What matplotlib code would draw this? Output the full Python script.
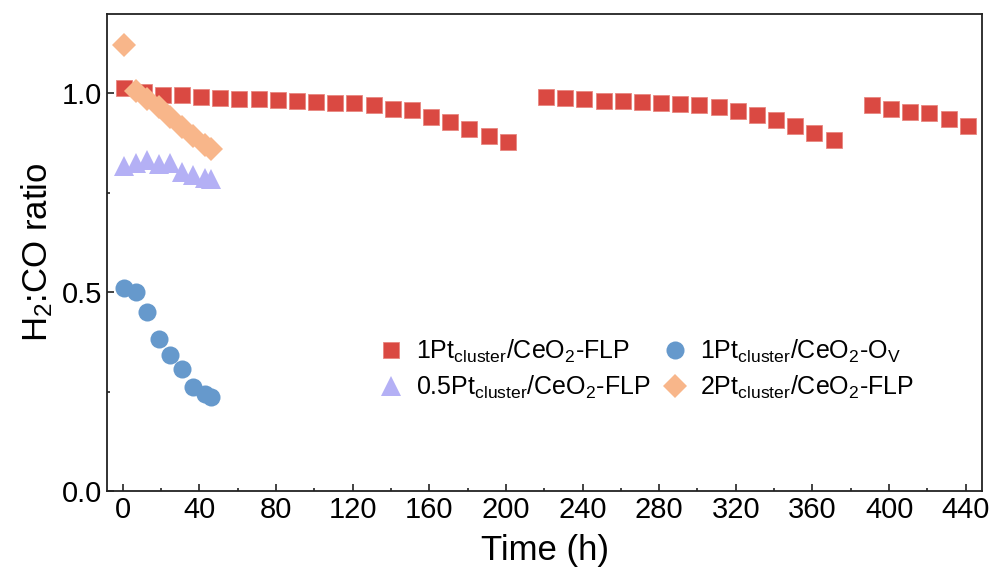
import numpy as np
import matplotlib.pyplot as plt
from matplotlib.ticker import MultipleLocator, FormatStrFormatter

plt.rcParams['font.family'] = ['Liberation Sans', 'DejaVu Sans']
plt.rcParams['mathtext.fontset'] = 'custom'
plt.rcParams['mathtext.rm'] = 'Liberation Sans'
plt.rcParams['mathtext.it'] = 'Liberation Sans:italic'

# 1Pt cluster / CeO2-FLP, three runs
t_flp1 = [1, 11, 21, 31, 41, 51, 61, 71, 81, 91, 101, 111, 121, 131, 141, 151,
          161, 171, 181, 191, 201]
r_flp1 = [1.014, 1.003, 0.997, 0.995, 0.992, 0.989, 0.987, 0.986, 0.984, 0.981,
          0.979, 0.977, 0.976, 0.972, 0.960, 0.959, 0.942, 0.929, 0.911, 0.894, 0.877]
t_flp2 = [221, 231, 241, 251, 261, 271, 281, 291, 301, 311, 321, 331, 341, 351,
          361, 371]
r_flp2 = [0.991, 0.988, 0.985, 0.982, 0.981, 0.979, 0.977, 0.974, 0.970, 0.966,
          0.957, 0.946, 0.934, 0.918, 0.900, 0.882]
t_flp3 = [391, 401, 411, 421, 431, 441]
r_flp3 = [0.970, 0.960, 0.953, 0.950, 0.935, 0.917]

# short runs
t_short = [1, 7, 13, 19, 25, 31, 37, 43, 46]
r_ov = [0.511, 0.500, 0.450, 0.383, 0.341, 0.307, 0.262, 0.245, 0.236]
r_05 = [0.818, 0.824, 0.832, 0.823, 0.826, 0.802, 0.794, 0.788, 0.786]
r_2 = [1.121, 1.005, 0.985, 0.965, 0.940, 0.915, 0.892, 0.870, 0.860]

c_red = '#DA4942'
c_blue = '#6699CC'
c_lav = '#B4B0F5'
c_peach = '#F8B68A'

fig = plt.figure(figsize=(9.93, 5.72), dpi=100)
ax = fig.add_axes([0.108, 0.1416, 0.881, 0.834])

t_all = t_flp1 + t_flp2 + t_flp3
r_all = r_flp1 + r_flp2 + r_flp3
ax.plot(t_all, r_all, 's', ms=12, color=c_red, mec='#E88780', mew=0.6,
        label=r'1Pt$_{\mathrm{cluster}}$/CeO$_2$-FLP')
ax.plot(t_short, r_05, '^', ms=14, color=c_lav, mec=c_lav, mew=0,
        label=r'0.5Pt$_{\mathrm{cluster}}$/CeO$_2$-FLP')
ax.plot(t_short, r_ov, 'o', ms=13, color=c_blue, mec=c_blue, mew=0,
        label=r'1Pt$_{\mathrm{cluster}}$/CeO$_2$-O$_\mathrm{V}$')
ax.plot(t_short, r_2, 'D', ms=12.5, color=c_peach, mec=c_peach, mew=0,
        label=r'2Pt$_{\mathrm{cluster}}$/CeO$_2$-FLP')

ax.set_xlim(-8, 448.5)
ax.set_ylim(0, 1.2)
ax.xaxis.set_major_locator(MultipleLocator(40))
ax.xaxis.set_minor_locator(MultipleLocator(20))
ax.yaxis.set_major_locator(MultipleLocator(0.5))
ax.yaxis.set_minor_locator(MultipleLocator(0.25))
ax.yaxis.set_major_formatter(FormatStrFormatter('%.1f'))
ax.tick_params(which='both', direction='in', labelsize=21, width=1.2, color='#222222')
ax.tick_params(which='major', length=5)
ax.tick_params(which='minor', length=2.5)
for s in ax.spines.values():
    s.set_linewidth(1.3)
    s.set_color('#222222')

ax.set_xlabel('Time (h)', fontsize=25, labelpad=7)
ax.set_ylabel('H$_2$:CO ratio', fontsize=25, labelpad=5)

ax.legend(ncol=2, loc='center left', bbox_to_anchor=(0.284, 0.255), frameon=False,
          fontsize=18, handlelength=1, handletextpad=0.5, columnspacing=0.5,
          labelspacing=0.35)

fig.savefig('out.png', dpi=100)
